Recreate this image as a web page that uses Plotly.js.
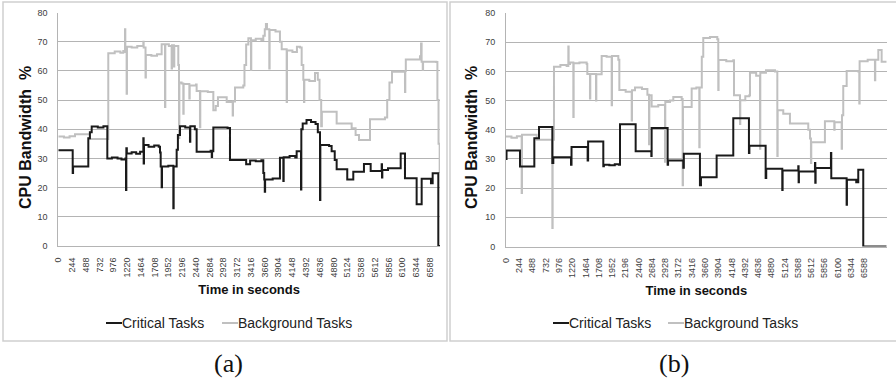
<!DOCTYPE html>
<html>
<head>
<meta charset="utf-8">
<script src="https://cdn.plot.ly/plotly-3.0.1.min.js"></script>
<style>
  html, body { margin: 0; padding: 0; background: #ffffff; }
  #chart { width: 896px; height: 383px; }
</style>
</head>
<body>
<div id="chart"></div>
<script>
// Time axis labels (seconds), one every 244 s
const timeTicks = [0, 244, 488, 732, 976, 1220, 1464, 1708, 1952, 2196, 2440, 2684, 2928, 3172,
  3416, 3660, 3904, 4148, 4392, 4636, 4880, 5124, 5368, 5612, 5856, 6100, 6344, 6588];
const bandwidthTicks = [0, 10, 20, 30, 40, 50, 60, 70, 80];

// Run (a): critical tasks, CPU bandwidth % at each change point
const critATime = [0, 255, 262, 532, 560, 592, 700, 800, 869, 950, 1050, 1120, 1190, 1200, 1206, 1215,
  1300, 1380, 1450, 1507, 1513, 1519, 1600, 1700, 1780, 1803, 1815, 1832, 1838, 1950, 2039, 2045,
  2098, 2120, 2157, 2250, 2334, 2340, 2420, 2452, 2700, 2720, 2726, 2748, 3000, 3043, 3300, 3330,
  3400, 3500, 3600, 3634, 3650, 3660, 3666, 3800, 3929, 3989, 3995, 4100, 4200, 4225, 4302, 4308,
  4332, 4400, 4480, 4560, 4600, 4639, 4645, 4800, 4845, 4900, 4934, 5122, 5229, 5418, 5537, 5732,
  5738, 5744, 5844, 6069, 6145, 6352, 6441, 6606, 6636, 6736, 6766];
const critAValue = [32.8, 25, 27.2, 36.9, 39, 40.9, 40.6, 41, 30, 30.3, 30, 29.6, 30, 19.2, 33.5, 31.7,
  32.1, 31.6, 32.3, 36.9, 28.3, 34.6, 34, 34.4, 34, 32, 27.2, 20.1, 27.2, 27.5, 12.9, 27.2,
  33, 38, 41, 40.6, 35.7, 41, 40, 32.3, 32.6, 30.5, 32.5, 40.6, 40.4, 29.5, 29.5, 28,
  29.3, 29, 29.4, 25, 22.8, 18.6, 22.8, 23.1, 30.2, 22.3, 30.4, 30.8, 30.3, 32.5, 19.4, 40,
  42, 43.2, 42.5, 41.8, 39, 15.8, 34.6, 34.3, 32.5, 29.5, 26.3, 22.8, 25.4, 28.1, 25.7, 28,
  23.5, 26, 26.6, 31.7, 23.2, 14.3, 23, 21.5, 24.9, 0, 0];

// Run (a): background tasks
const bgATime = [0, 100, 200, 296, 562, 886, 1000, 1100, 1152, 1182, 1188, 1211, 1217, 1300, 1400,
  1507, 1513, 1546, 1552, 1650, 1750, 1832, 1891, 1897, 1960, 2009, 2015, 2050, 2056, 2127, 2140,
  2146, 2186, 2216, 2222, 2323, 2329, 2440, 2452, 2511, 2517, 2650, 2748, 2790, 2830, 2985, 3091,
  3097, 3132, 3279, 3300, 3330, 3369, 3415, 3421, 3500, 3600, 3634, 3660, 3680, 3700, 3740, 3746,
  3850, 3929, 3960, 4048, 4054, 4150, 4230, 4284, 4314, 4343, 4355, 4361, 4450, 4550, 4600, 4630,
  4660, 4672, 4934, 5200, 5270, 5330, 5525, 5790, 5830, 5870, 5915, 6145, 6151, 6160, 6411, 6430,
  6440, 6460, 6466, 6700, 6720, 6740, 6760];
const bgAValue = [37.5, 37.2, 37.6, 38.3, 36.7, 66, 66.6, 66.2, 66.8, 74.3, 66.5, 52.2, 68.3, 68, 68.5,
  70, 68, 57.7, 65.4, 65.2, 65.7, 69.1, 47.6, 69.1, 68.5, 60.8, 68.8, 61.5, 68.5, 62, 37,
  56, 55.7, 45.3, 55.5, 50.5, 55, 55.3, 53.1, 40.7, 53, 52.8, 46.5, 48, 51, 49.3, 44.7,
  49.5, 54.3, 55, 62, 69, 71.2, 60.3, 70.5, 71, 70.6, 72, 74.3, 76.1, 74.3, 60.8, 74,
  73.5, 70, 67.4, 49.3, 67, 66.5, 68.3, 68, 62, 57, 49.3, 57, 56.5, 59.3, 57, 50,
  41, 46, 42, 40.3, 38, 36.3, 43.4, 44, 50, 56, 59.7, 52.8, 60, 63.9, 65, 69.4,
  63.1, 60.3, 63.1, 63, 50, 35, 25];

// Run (b): critical tasks
const critBTime = [0, 10, 257, 521, 607, 852, 870, 1195, 1205, 1501, 1510, 1789, 1800, 1900, 2000,
  2077, 2096, 2384, 2672, 2678, 2972, 2980, 3260, 3270, 3566, 3585, 3873, 4179, 4467, 4475, 4774,
  4785, 5080, 5086, 5374, 5380, 5386, 5681, 5687, 5693, 5975, 5981, 6263, 6269, 6440, 6477, 6569, 7000];
const critBValue = [30, 32.9, 27.4, 37.1, 40.9, 28.6, 30.6, 28, 34.1, 29.5, 36, 27.5, 28, 27.8, 28.2,
  28, 41.9, 32.6, 31, 40.6, 28, 29.5, 27, 31.8, 21, 23.7, 31.2, 43.9, 32, 34.5, 23.5,
  26.6, 19.4, 26, 27.5, 22, 25.7, 28.6, 21.8, 26.9, 32, 23.4, 14.3, 22.9, 22, 26.3, 0, 0];

// Run (b): background tasks
const bgBTime = [0, 100, 200, 288, 294, 564, 852, 858, 882, 1000, 1115, 1146, 1152, 1177, 1238, 1244,
  1350, 1483, 1495, 1544, 1550, 1655, 1661, 1759, 1850, 1943, 1949, 2065, 2084, 2200, 2311, 2317,
  2372, 2500, 2600, 2629, 2635, 2678, 2800, 2923, 2929, 3015, 3076, 3230, 3248, 3254, 3414, 3500,
  3554, 3560, 3600, 3627, 3750, 3885, 3903, 3909, 4050, 4179, 4192, 4302, 4308, 4400, 4474, 4486,
  4600, 4670, 4676, 4780, 4946, 4989, 4995, 5098, 5221, 5558, 5590, 5607, 5613, 5864, 6036, 6042,
  6172, 6178, 6201, 6264, 6477, 6496, 6502, 6650, 6784, 6790, 6846, 6907, 7000];
const bgBValue = [37.7, 37.3, 37.8, 18.3, 38.3, 36.6, 6.3, 36.6, 61.6, 62.2, 61.8, 68.5, 62.5, 63, 44.4, 62.8,
  63, 62.5, 59.1, 50.7, 59.1, 50, 59, 65.3, 65, 48.4, 65.3, 64, 53.6, 53, 43.2, 53.5,
  54.5, 54, 52, 35, 51.8, 48, 48.5, 29, 49.5, 50, 51.2, 50.5, 21, 47.8, 54.1, 54.5,
  34, 54.5, 65, 71.4, 71.8, 71, 53.6, 63.9, 63.5, 63.8, 51.8, 42, 50.1, 51.5, 51.8, 59.5,
  58.5, 33.5, 59.5, 60.4, 60, 31, 46.7, 45.5, 42.1, 40, 37, 28.6, 35.7, 42.9, 40, 42.6,
  33.5, 45, 55, 60.1, 60, 49, 63.5, 64, 57, 64, 67.3, 63.3, 63.3];

const seriesNames = ['Critical Tasks', 'Background Tasks'];
const seriesColors = ['#1a1a1a', '#c0c0c0'];
const gridColor = '#b4b4b4';
const sansFamily = 'Liberation Sans, Arial, sans-serif';
const labelFont = { family: sansFamily, size: 9, color: '#404040' };

function series(x, y, idx, xa, ya) {
  return {
    type: 'scatter', mode: 'lines', x: x, y: y, name: seriesNames[idx],
    xaxis: xa, yaxis: ya, showlegend: false,
    line: { color: seriesColors[idx], width: 2, shape: 'hv' },
    hoverinfo: 'skip'
  };
}

// Background drawn first so critical tasks sit on top
const traces = [
  series(bgATime, bgAValue, 1, 'x', 'y'),
  series(critATime, critAValue, 0, 'x', 'y'),
  series(bgBTime, bgBValue, 1, 'x2', 'y2'),
  series(critBTime, critBValue, 0, 'x2', 'y2')
];

function xAxis(domain, maxT, anchor) {
  return {
    domain: domain, range: [0, maxT], anchor: anchor,
    tickmode: 'array', tickvals: timeTicks, ticktext: timeTicks.map(String),
    tickangle: -90, tickfont: labelFont, ticks: '', ticklabelstandoff: 7,
    showgrid: false, zeroline: false, showline: true, linecolor: gridColor, linewidth: 1,
    title: { text: 'Time in seconds', font: { family: sansFamily, size: 13, color: '#111111', weight: 'bold' }, standoff: 8 },
    fixedrange: true
  };
}
function yAxis(domain, anchor) {
  return {
    domain: domain, range: [0, 80], anchor: anchor,
    tickmode: 'array', tickvals: bandwidthTicks, ticks: '', tickfont: labelFont, ticklabelstandoff: 8,
    showgrid: true, gridcolor: gridColor, gridwidth: 1, zeroline: false,
    showline: true, linecolor: gridColor, linewidth: 1,
    fixedrange: true
  };
}

const W = 896, H = 383;
const legendY = 1 - 323 / H;
// Legend key: short line followed directly by the series name
function legendKey(x0, idx) {
  return {
    shape: { type: 'line', xref: 'paper', yref: 'paper', x0: x0 / W, x1: (x0 + 16) / W, y0: legendY, y1: legendY,
      line: { color: seriesColors[idx], width: 2 } },
    label: { text: seriesNames[idx], xref: 'paper', yref: 'paper', x: (x0 + 15) / W, y: legendY,
      xanchor: 'left', yanchor: 'middle', showarrow: false, borderpad: 0,
      font: { family: sansFamily, size: 14, color: '#222222' } }
  };
}
const keys = [legendKey(106, 0), legendKey(222, 1), legendKey(553, 0), legendKey(668, 1)];

const yTitleFont = { family: sansFamily, size: 16, color: '#111111', weight: 'bold' };
const panelFont = { family: 'Liberation Serif, DejaVu Serif, serif', size: 26, color: '#111111' };

const layout = {
  width: W, height: H,
  margin: { l: 0, r: 0, t: 0, b: 0 },
  paper_bgcolor: '#ffffff', plot_bgcolor: '#ffffff',
  showlegend: false,
  xaxis: xAxis([58.3 / W, 440 / W], 6766, 'y'),
  yaxis: yAxis([1 - 246 / H, 1 - 12.5 / H], 'x'),
  xaxis2: xAxis([506 / W, 886.7 / W], 7000, 'y2'),
  yaxis2: yAxis([1 - 246.5 / H, 1 - 13 / H], 'x2'),
  shapes: [
    { type: 'rect', xref: 'paper', yref: 'paper', x0: 3 / W, x1: 447 / W, y0: 1 - 341 / H, y1: 1 - 2 / H,
      line: { color: '#cfcfcf', width: 1.5 }, layer: 'below' },
    { type: 'rect', xref: 'paper', yref: 'paper', x0: 450 / W, x1: 1.02, y0: 1 - 341 / H, y1: 1 - 2 / H,
      line: { color: '#cfcfcf', width: 1.5 }, layer: 'below' }
  ].concat(keys.map(k => k.shape)),
  annotations: [
    { text: 'CPU Bandwidth  %', textangle: -90, xref: 'paper', yref: 'paper', x: 25 / W, y: 1 - 138 / H,
      xanchor: 'center', yanchor: 'middle', showarrow: false, font: yTitleFont },
    { text: 'CPU Bandwidth  %', textangle: -90, xref: 'paper', yref: 'paper', x: 471 / W, y: 1 - 138 / H,
      xanchor: 'center', yanchor: 'middle', showarrow: false, font: yTitleFont },
    { text: '(a)', xref: 'paper', yref: 'paper', x: 228 / W, y: 1 - 363 / H, xanchor: 'center', yanchor: 'middle',
      showarrow: false, font: panelFont },
    { text: '(b)', xref: 'paper', yref: 'paper', x: 674 / W, y: 1 - 363 / H, xanchor: 'center', yanchor: 'middle',
      showarrow: false, font: panelFont }
  ].concat(keys.map(k => k.label))
};

Plotly.newPlot('chart', traces, layout, { staticPlot: true, displayModeBar: false });
</script>
</body>
</html>
